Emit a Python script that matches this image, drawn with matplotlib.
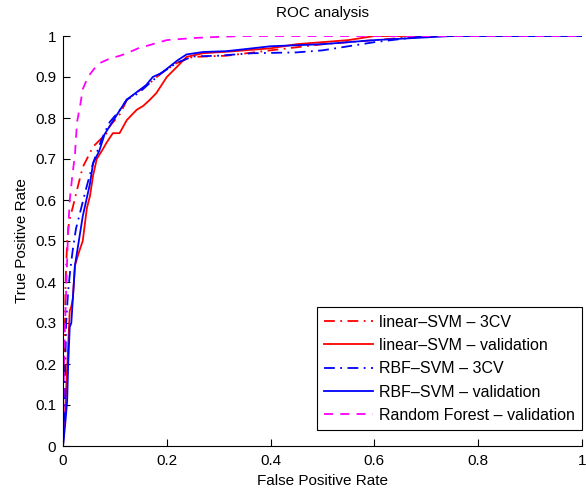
import matplotlib
matplotlib.use("Agg")
import matplotlib.pyplot as plt

plt.rcParams.update({
    "font.family": ["Liberation Sans", "DejaVu Sans"],
    "font.size": 11,
    "axes.spines.top": False,
    "axes.spines.right": False,
})

# linear-SVM 3CV
lin_cv_fpr = [0, 0.002, 0.005, 0.008, 0.012, 0.019, 0.028, 0.038, 0.058, 0.084, 0.09, 0.11,
              0.123, 0.145, 0.167, 0.19, 0.219, 0.25, 0.315, 0.4, 0.5, 0.6, 0.7, 1.0]
lin_cv_tpr = [0, 0.15, 0.4, 0.5, 0.55, 0.583, 0.63, 0.68, 0.73, 0.763, 0.78, 0.81,
              0.844, 0.865, 0.885, 0.91, 0.934, 0.949, 0.952, 0.965, 0.98, 0.99, 1.0, 1.0]

# linear-SVM validation
lin_val_fpr = [0, 0.004, 0.008, 0.013, 0.016, 0.019, 0.023, 0.03, 0.038, 0.046, 0.052, 0.058,
               0.065, 0.075, 0.084, 0.096, 0.109, 0.123, 0.142, 0.155, 0.167, 0.18, 0.2, 0.219,
               0.238, 0.27, 0.32, 0.4, 0.45, 0.55, 0.6, 1.0]
lin_val_tpr = [0, 0.08, 0.19, 0.33, 0.34, 0.36, 0.44, 0.47, 0.5, 0.58, 0.61, 0.66,
               0.70, 0.72, 0.74, 0.763, 0.763, 0.795, 0.82, 0.83, 0.844, 0.861, 0.9, 0.924,
               0.949, 0.958, 0.962, 0.97, 0.98, 0.99, 1.0, 1.0]

# RBF-SVM 3CV
rbf_cv_fpr = [0, 0.003, 0.006, 0.01, 0.014, 0.019, 0.025, 0.033, 0.045, 0.058, 0.075, 0.09,
              0.11, 0.123, 0.145, 0.167, 0.19, 0.22, 0.25, 0.3, 0.365, 0.45, 0.5, 0.6, 0.7, 1.0]
rbf_cv_tpr = [0, 0.1, 0.3, 0.38, 0.43, 0.48, 0.53, 0.57, 0.63, 0.69, 0.75, 0.79,
              0.82, 0.845, 0.86, 0.885, 0.91, 0.935, 0.95, 0.952, 0.958, 0.96, 0.965, 0.985, 1.0, 1.0]

# RBF-SVM validation
rbf_val_fpr = [0, 0.004, 0.008, 0.01, 0.013, 0.016, 0.019, 0.023, 0.028, 0.033, 0.038, 0.045,
               0.052, 0.058, 0.07, 0.08, 0.09, 0.1, 0.11, 0.123, 0.142, 0.16, 0.173, 0.19,
               0.205, 0.22, 0.238, 0.27, 0.315, 0.365, 0.4, 0.5, 0.6, 0.75, 1.0]
rbf_val_tpr = [0, 0.05, 0.11, 0.2, 0.29, 0.30, 0.36, 0.44, 0.48, 0.52, 0.56, 0.6,
               0.64, 0.69, 0.72, 0.76, 0.78, 0.8, 0.82, 0.845, 0.863, 0.88, 0.9, 0.91,
               0.925, 0.94, 0.955, 0.961, 0.963, 0.97, 0.975, 0.98, 0.99, 1.0, 1.0]

# Random Forest validation
rf_fpr = [0, 0.002, 0.004, 0.006, 0.01, 0.013, 0.018, 0.023, 0.027, 0.033, 0.038, 0.048,
          0.06, 0.071, 0.09, 0.11, 0.123, 0.145, 0.167, 0.2, 0.25, 0.3, 0.35, 0.5, 1.0]
rf_tpr = [0, 0.2, 0.3, 0.38, 0.53, 0.6, 0.66, 0.71, 0.79, 0.83, 0.87, 0.9,
          0.92, 0.934, 0.945, 0.952, 0.958, 0.97, 0.978, 0.99, 0.995, 0.998, 1.0, 1.0, 1.0]

dashdot = (0, (6, 3, 1, 3))
dashed = (0, (5, 4))
series = [
    ("linear\u2013SVM \u2013 3CV", lin_cv_fpr, lin_cv_tpr, "#ff0000", dashdot),
    ("linear\u2013SVM \u2013 validation", lin_val_fpr, lin_val_tpr, "#ff0000", "-"),
    ("RBF\u2013SVM \u2013 3CV", rbf_cv_fpr, rbf_cv_tpr, "#0000ff", dashdot),
    ("RBF\u2013SVM \u2013 validation", rbf_val_fpr, rbf_val_tpr, "#0000ff", "-"),
    ("Random Forest \u2013 validation", rf_fpr, rf_tpr, "#ff00ff", dashed),
]

fig = plt.figure(figsize=(5.86, 4.95), dpi=100)
ax = fig.add_axes([63 / 586, 49 / 495, 519 / 586, 410 / 495])

for label, fpr, tpr, color, ls in series:
    ax.plot(fpr, tpr, color=color, ls=ls, lw=1.3, label=label)

ax.set_xlim(0, 1)
ax.set_ylim(0, 1)
ax.set_xticks([0, 0.2, 0.4, 0.6, 0.8, 1])
ax.set_xticklabels(["0", "0.2", "0.4", "0.6", "0.8", "1"])
ax.set_yticks([i / 10 for i in range(11)])
ax.set_yticklabels(["0"] + [f"0.{i}" for i in range(1, 10)] + ["1"])
ax.tick_params(direction="in", length=5, width=0.8)
ax.tick_params(axis="x", pad=6)
ax.tick_params(axis="y", pad=5)
ax.set_xlabel("False Positive Rate", labelpad=4)
ax.set_ylabel("True Positive Rate", labelpad=4)
ax.set_title("ROC analysis", fontsize=11, pad=14)

leg = ax.legend(loc="lower right", bbox_to_anchor=(1.0, 16 / 410), fancybox=False,
                edgecolor="black", framealpha=1, handlelength=3.1, borderaxespad=0,
                labelspacing=0.52, borderpad=0.45, handletextpad=0.35,
                prop={"size": 11.5})
leg.get_frame().set_linewidth(0.8)

fig.savefig("out.png", dpi=100)
